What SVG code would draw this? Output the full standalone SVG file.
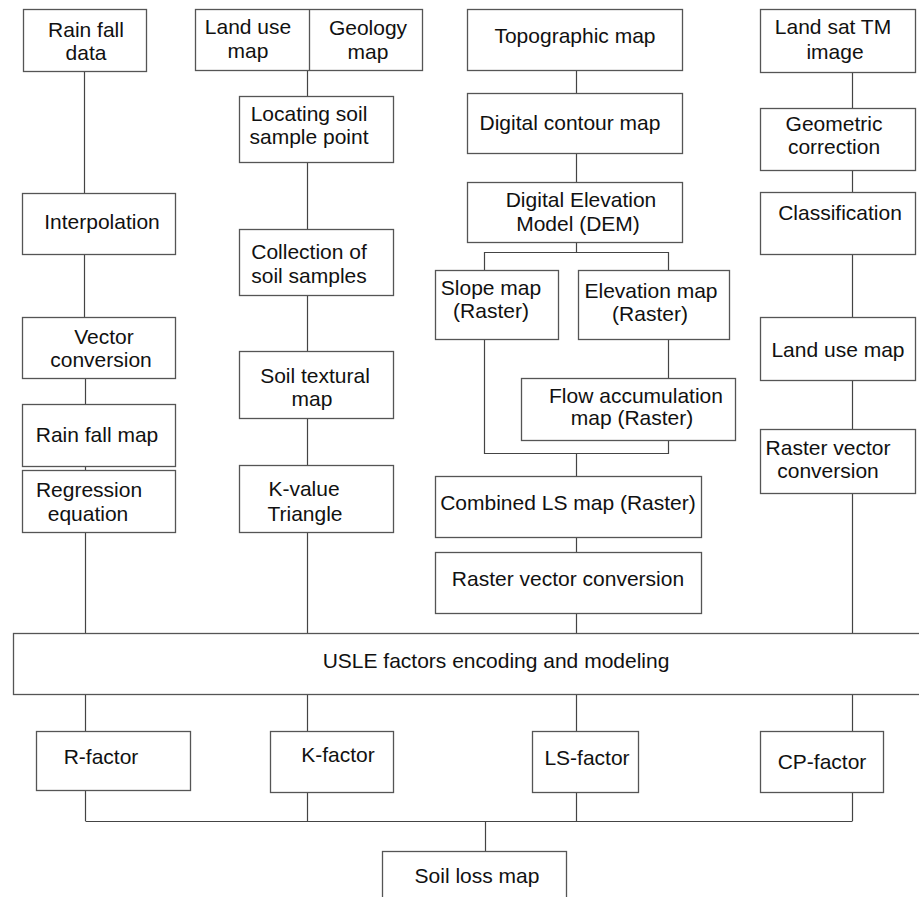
<svg xmlns="http://www.w3.org/2000/svg" width="919" height="897" viewBox="0 0 919 897">
<style>
rect{fill:#fff;stroke:#555;stroke-width:1.3}
line,polyline{stroke:#444;stroke-width:1.2;fill:none}
text{font-family:"Liberation Sans",Arial,sans-serif;font-size:21px;fill:#111;text-anchor:middle}
</style>
<rect x="0" y="0" width="919" height="897" style="stroke:none"/>
<g id="connectors">
<line x1="84.5" y1="71" x2="84.5" y2="193"/>
<line x1="84.5" y1="254" x2="84.5" y2="317"/>
<line x1="85.5" y1="378" x2="85.5" y2="404"/>
<line x1="85.5" y1="466" x2="85.5" y2="470"/>
<line x1="85.5" y1="532" x2="85.5" y2="633"/>
<line x1="307.5" y1="70" x2="307.5" y2="96"/>
<line x1="307.5" y1="163" x2="307.5" y2="229"/>
<line x1="307.5" y1="295" x2="307.5" y2="351"/>
<line x1="307.5" y1="418" x2="307.5" y2="465"/>
<line x1="307.5" y1="532" x2="307.5" y2="633"/>
<line x1="576.5" y1="71" x2="576.5" y2="93"/>
<line x1="576.5" y1="153" x2="576.5" y2="182"/>
<line x1="576.5" y1="242" x2="576.5" y2="252"/>
<polyline points="484.5,270 484.5,252.5 668.5,252.5 668.5,270"/>
<line x1="668.5" y1="339" x2="668.5" y2="378"/>
<polyline points="484.5,339 484.5,453.5 668.5,453.5 668.5,440"/>
<line x1="576.5" y1="453" x2="576.5" y2="476"/>
<line x1="576.5" y1="537" x2="576.5" y2="552"/>
<line x1="576.5" y1="613" x2="576.5" y2="633"/>
<line x1="852.5" y1="73" x2="852.5" y2="108"/>
<line x1="852.5" y1="171" x2="852.5" y2="192"/>
<line x1="852.5" y1="254" x2="852.5" y2="317"/>
<line x1="852.5" y1="380" x2="852.5" y2="429"/>
<line x1="852.5" y1="493" x2="852.5" y2="633"/>
<line x1="85.5" y1="695" x2="85.5" y2="731"/>
<line x1="307.5" y1="695" x2="307.5" y2="731"/>
<line x1="576.5" y1="695" x2="576.5" y2="731"/>
<line x1="852.5" y1="695" x2="852.5" y2="731"/>
<line x1="85.5" y1="790" x2="85.5" y2="821"/>
<line x1="307.5" y1="792" x2="307.5" y2="821"/>
<line x1="576.5" y1="792" x2="576.5" y2="821"/>
<line x1="852.5" y1="792" x2="852.5" y2="821"/>
<line x1="85.5" y1="821.5" x2="852.5" y2="821.5"/>
<line x1="485.5" y1="821" x2="485.5" y2="851"/>
</g>
<g id="rainfall-data"><rect x="23.5" y="9.5" width="123" height="62"/><text x="86" y="37">Rain fall</text><text x="86" y="60">data</text></g>
<g id="landuse-geology"><rect x="195.5" y="9.5" width="227" height="61"/><line x1="309.5" y1="9.5" x2="309.5" y2="70.5" style="stroke:#555;stroke-width:1.3"/><text x="248" y="34">Land use</text><text x="248" y="58">map</text><text x="368" y="35">Geology</text><text x="368" y="59">map</text></g>
<g id="topographic"><rect x="467.5" y="9.5" width="215" height="61"/><text x="575" y="43">Topographic map</text></g>
<g id="landsat"><rect x="760.5" y="9.5" width="155" height="63"/><text x="833" y="34">Land sat TM</text><text x="835" y="59">image</text></g>
<g id="locating"><rect x="239.5" y="96.5" width="154" height="66"/><text x="309" y="121">Locating soil</text><text x="309" y="144">sample point</text></g>
<g id="contour"><rect x="467.5" y="93.5" width="215" height="60"/><text x="570" y="130">Digital contour map</text></g>
<g id="geometric"><rect x="760.5" y="108.5" width="155" height="62"/><text x="834" y="131">Geometric</text><text x="834" y="154">correction</text></g>
<g id="interpolation"><rect x="22.5" y="193.5" width="153" height="61"/><text x="102" y="229">Interpolation</text></g>
<g id="dem"><rect x="467.5" y="182.5" width="215" height="60"/><text x="581" y="207">Digital Elevation</text><text x="578" y="231">Model (DEM)</text></g>
<g id="classification"><rect x="760.5" y="192.5" width="155" height="62"/><text x="840" y="220">Classification</text></g>
<g id="collection"><rect x="239.5" y="229.5" width="154" height="66"/><text x="309" y="259">Collection of</text><text x="309" y="283">soil samples</text></g>
<g id="slope"><rect x="435.5" y="270.5" width="123" height="69"/><text x="491" y="295">Slope map</text><text x="491" y="318">(Raster)</text></g>
<g id="elevation"><rect x="578.5" y="270.5" width="151" height="69"/><text x="651" y="298">Elevation map</text><text x="650" y="321">(Raster)</text></g>
<g id="vector-conversion"><rect x="22.5" y="317.5" width="153" height="61"/><text x="104" y="344">Vector</text><text x="101" y="367">conversion</text></g>
<g id="landuse-right"><rect x="760.5" y="317.5" width="155" height="63"/><text x="838" y="357">Land use map</text></g>
<g id="textural"><rect x="239.5" y="351.5" width="154" height="67"/><text x="315" y="383">Soil textural</text><text x="312" y="406">map</text></g>
<g id="flow"><rect x="521.5" y="378.5" width="214" height="62"/><text x="636" y="403">Flow accumulation</text><text x="632" y="425">map (Raster)</text></g>
<g id="rainfall-map"><rect x="22.5" y="404.5" width="153" height="62"/><text x="97" y="442">Rain fall map</text></g>
<g id="raster-vector-right"><rect x="760.5" y="429.5" width="155" height="64"/><text x="828" y="455">Raster vector</text><text x="828" y="478">conversion</text></g>
<g id="regression"><rect x="22.5" y="470.5" width="153" height="62"/><text x="89" y="497">Regression</text><text x="88" y="521">equation</text></g>
<g id="kvalue"><rect x="239.5" y="465.5" width="154" height="67"/><text x="304" y="496">K-value</text><text x="305" y="521">Triangle</text></g>
<g id="combined-ls"><rect x="435.5" y="476.5" width="266" height="61"/><text x="568" y="510">Combined LS map (Raster)</text></g>
<g id="raster-vector-mid"><rect x="435.5" y="552.5" width="266" height="61"/><text x="568" y="586">Raster vector conversion</text></g>
<g id="usle"><rect x="13.5" y="633.5" width="915" height="61"/><text x="496" y="668">USLE factors encoding and modeling</text></g>
<g id="r-factor"><rect x="36.5" y="731.5" width="154" height="59"/><text x="101" y="764">R-factor</text></g>
<g id="k-factor"><rect x="270.5" y="731.5" width="123" height="61"/><text x="338" y="762">K-factor</text></g>
<g id="ls-factor"><rect x="532.5" y="731.5" width="106" height="61"/><text x="587" y="765">LS-factor</text></g>
<g id="cp-factor"><rect x="760.5" y="731.5" width="123" height="61"/><text x="822" y="769">CP-factor</text></g>
<g id="soil-loss"><rect x="382.5" y="851.5" width="184" height="60"/><text x="477" y="883">Soil loss map</text></g>
</svg>
